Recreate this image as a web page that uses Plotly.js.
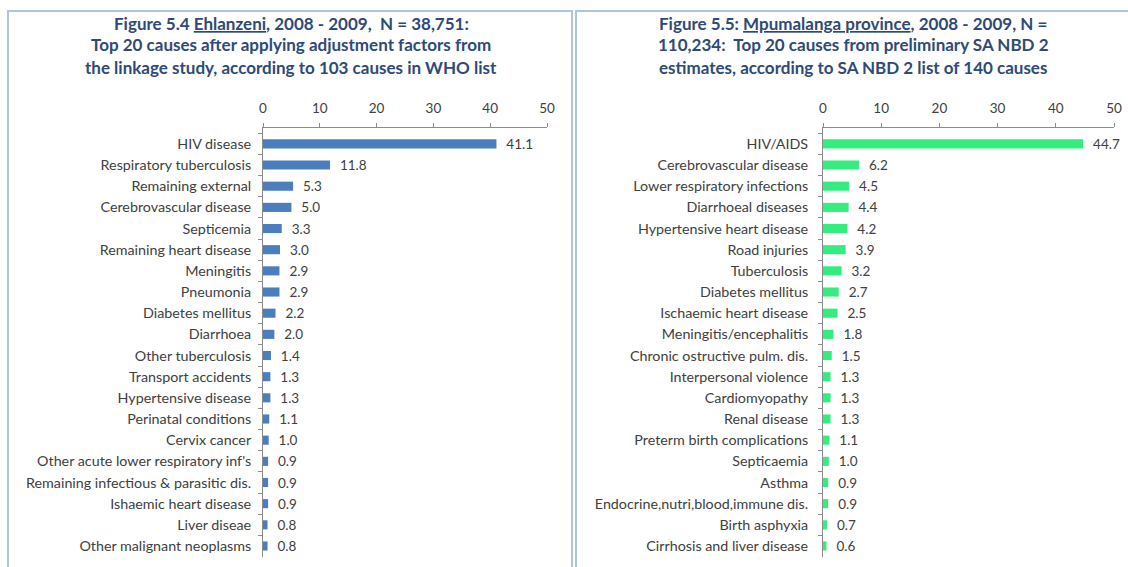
<!DOCTYPE html>
<html>
<head>
<meta charset="utf-8">
<script src="https://cdn.plot.ly/plotly-3.0.1.min.js"></script>
<style>html,body{margin:0;padding:0;background:#fff;}#chart{width:1128px;height:567px;}</style>
</head>
<body>
<div id="chart"></div>
<script>
// ---- Data ----
const leftCauses = ["HIV disease","Respiratory tuberculosis","Remaining external","Cerebrovascular disease","Septicemia","Remaining heart disease","Meningitis","Pneumonia","Diabetes mellitus","Diarrhoea","Other tuberculosis","Transport accidents","Hypertensive disease","Perinatal conditions","Cervix cancer","Other acute lower respiratory inf's","Remaining infectious & parasitic dis.","Ishaemic heart disease","Liver diseae","Other malignant neoplasms"];
const leftValues = [41.1,11.8,5.3,5.0,3.3,3.0,2.9,2.9,2.2,2.0,1.4,1.3,1.3,1.1,1.0,0.9,0.9,0.9,0.8,0.8];

const rightCauses = ["HIV/AIDS","Cerebrovascular disease","Lower respiratory infections","Diarrhoeal diseases","Hypertensive heart disease","Road injuries","Tuberculosis","Diabetes mellitus","Ischaemic heart disease","Meningitis/encephalitis","Chronic ostructive pulm. dis.","Interpersonal violence","Cardiomyopathy","Renal disease","Preterm birth complications","Septicaemia","Asthma","Endocrine,nutri,blood,immune dis.","Birth asphyxia","Cirrhosis and liver disease"];
const rightValues = [44.7,6.2,4.5,4.4,4.2,3.9,3.2,2.7,2.5,1.8,1.5,1.3,1.3,1.3,1.1,1.0,0.9,0.9,0.7,0.6];

const xTicks = [0,10,20,30,40,50];

const leftTitle = ["Figure 5.4 <u>Ehlanzeni</u>, 2008 - 2009,  N = 38,751:",
                   "Top 20 causes after applying adjustment factors from",
                   "the linkage study, according to 103 causes in WHO list"];
const rightTitle = ["Figure 5.5: <u>Mpumalanga province</u>, 2008 - 2009, N =",
                    "110,234:  Top 20 causes from preliminary SA NBD 2",
                    "estimates, according to SA NBD 2 list of 140 causes"];

// ---- Helpers ----
const W = 1128, H = 567;
const px = v => v / W;
const py = v => 1 - v / H;
const FONT = "Lato, 'Open Sans', sans-serif";
const labelFont = {family: FONT, size: 14.3, color: "#404040"};
const valueFont = {family: FONT, size: 13.5, color: "#404040"};

function barTrace(cats, vals, color, xa, ya) {
  return {
    type: "bar", orientation: "h",
    x: vals, y: cats, xaxis: xa, yaxis: ya,
    marker: {color: color, line: {width: 0}},
    width: 0.43,
    text: vals.map(v => "\u00a0\u00a0" + v.toFixed(1)),
    textposition: "outside",
    constraintext: "none",
    textfont: valueFont,
    cliponaxis: false,
    hoverinfo: "x+y",
    showlegend: false
  };
}

function xAxis(domain, anchor) {
  return {
    domain: domain, anchor: anchor, side: "top",
    range: [0, 50], tickvals: xTicks, ticktext: xTicks.map(String),
    showgrid: false, zeroline: false,
    showline: true, linecolor: "#8c8c8c", linewidth: 1,
    ticks: "outside", ticklen: 4, tickcolor: "#8c8c8c",
    tickfont: {family: FONT, size: 13.5, color: "#404040"},
    ticklabelstandoff: 5,
    fixedrange: true
  };
}
function yAxis(domain, anchor, cats, standoff) {
  return {
    domain: domain, anchor: anchor, type: "category",
    categoryorder: "array", categoryarray: cats,
    range: [19.52, -0.75],
    showgrid: false, zeroline: false,
    showline: true, linecolor: "#8c8c8c", linewidth: 1,
    ticks: "outside", ticklen: 4, tickcolor: "#8c8c8c",
    tickson: "boundaries",
    tickfont: labelFont,
    ticklabelstandoff: standoff,
    fixedrange: true
  };
}

const yDom = [py(557), py(128)];

const annotations = [];
function addTitle(lines, cx) {
  lines.forEach((t, i) => {
    annotations.push({
      xref: "paper", yref: "paper", x: px(cx), y: py(23 + 22 * i),
      xanchor: "center", yanchor: "middle", showarrow: false,
      text: "<b>" + t + "</b>",
      font: {family: FONT, size: 17, color: "#2E4A78"}
    });
  });
}
addTitle(leftTitle, 291);
addTitle(rightTitle, 853);

const borderColor = "#AFC4DF";
const shapes = [
  {type: "rect", xref: "paper", yref: "paper", x0: px(8), x1: px(572), y0: -0.1, y1: py(11),
   line: {color: borderColor, width: 2}, fillcolor: "rgba(0,0,0,0)", layer: "below"},
  {type: "rect", xref: "paper", yref: "paper", x0: px(576), x1: 1.1, y0: -0.1, y1: py(11),
   line: {color: borderColor, width: 2}, fillcolor: "rgba(0,0,0,0)", layer: "below"}
];

const data = [
  barTrace(leftCauses, leftValues, "#4A7EBF", "x", "y"),
  barTrace(rightCauses, rightValues, "#33EE7E", "x2", "y2")
];

const layout = {
  width: W, height: H,
  margin: {l: 0, r: 0, t: 0, b: 0},
  paper_bgcolor: "#ffffff", plot_bgcolor: "rgba(0,0,0,0)",
  xaxis: xAxis([px(263), px(547)], "y"),
  yaxis: yAxis(yDom, "x", leftCauses, 8),
  xaxis2: xAxis([px(823), px(1114)], "y2"),
  yaxis2: yAxis(yDom, "x2", rightCauses, 11),
  annotations: annotations,
  shapes: shapes,
  bargap: 0.57
};

Plotly.newPlot("chart", data, layout, {displayModeBar: false, staticPlot: true});
</script>
</body>
</html>
